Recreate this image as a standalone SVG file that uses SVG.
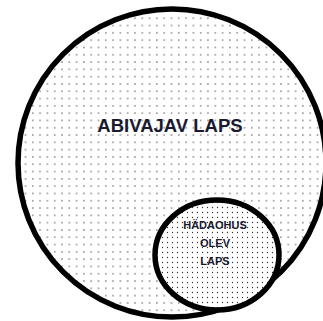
<svg xmlns="http://www.w3.org/2000/svg" width="323" height="321" viewBox="0 0 323 321">
  <style>
    .ring { stroke: #000; stroke-width: 5.5; }
    .label { font-family: "Liberation Sans", Arial, sans-serif; font-weight: bold; fill: #1a1a30; text-anchor: middle; }
  </style>
  <defs>
    <pattern id="dotsOuter" x="0" y="0" width="7.3" height="7.3" patternUnits="userSpaceOnUse">
      <rect width="7.3" height="7.3" fill="#fff"/>
      <circle cx="3.6" cy="3.6" r="0.7" fill="#333"/>
    </pattern>
    <pattern id="dotsInner" x="0" y="0" width="5" height="5" patternUnits="userSpaceOnUse">
      <rect width="5" height="5" fill="#fff"/>
      <circle cx="2.5" cy="2.5" r="0.65" fill="#333"/>
    </pattern>
  </defs>
  <rect width="323" height="321" fill="#fff"/>
  <g id="abivajav-laps">
    <circle class="ring" cx="172" cy="163" r="154" fill="url(#dotsOuter)"/>
    <text class="label" x="170" y="132" font-size="18.5">ABIVAJAV LAPS</text>
  </g>
  <g id="hadaohus-olev-laps">
    <ellipse class="ring" cx="217" cy="255" rx="62" ry="55" fill="url(#dotsInner)" stroke-width="4.5"/>
    <text class="label" x="215" y="229" font-size="11">HÄDAOHUS</text>
    <text class="label" x="215" y="247" font-size="11">OLEV</text>
    <text class="label" x="215" y="265" font-size="11">LAPS</text>
  </g>
  <g id="connectors"/>
</svg>
